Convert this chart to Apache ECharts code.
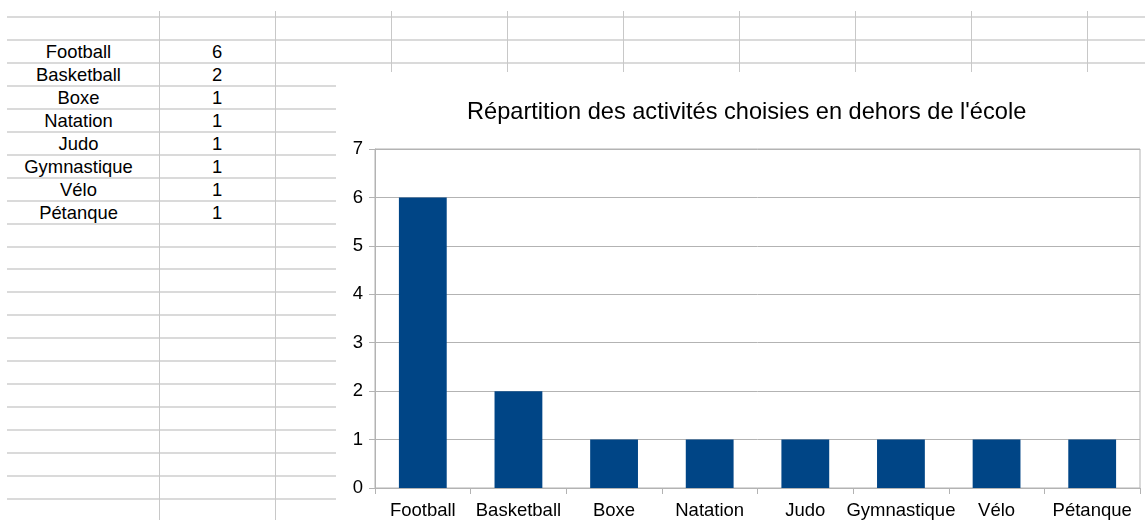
<!DOCTYPE html>
<html>
<head>
<meta charset="utf-8">
<script src="https://cdn.jsdelivr.net/npm/echarts@6/dist/echarts.min.js"></script>
<style>
  body { margin: 0; width: 1145px; height: 520px; overflow: hidden; background: #fff; position: relative; font-family: "Liberation Sans", Arial, sans-serif; }
  .hl { position: absolute; height: 2px; background: #dadada; }
  .vl { position: absolute; width: 1px; background: #c8c8c8; }
  .cell { position: absolute; height: 23px; line-height: 23px; text-align: center; font-size: 18.4px; color: #000; }
  #chart { position: absolute; left: 336px; top: 72px; width: 809px; height: 448px; background: #fff; }
</style>
</head>
<body>
<div id="sheet"></div>
<div id="chart"></div>
<script>
var activites = ["Football", "Basketball", "Boxe", "Natation", "Judo", "Gymnastique", "Vélo", "Pétanque"]
var nombres = [6, 2, 1, 1, 1, 1, 1, 1]
var titre = "Répartition des activités choisies en dehors de l'école"

// grille du tableur
var sheet = document.getElementById("sheet")
for (var k = 0; k <= 21; k++) {
  var y = Math.round(17 + k * 22.95)
  var d = document.createElement("div")
  d.className = "hl"
  d.style.left = "7px"
  d.style.top = (y - 1) + "px"
  d.style.width = (k < 3 ? 1138 : 329) + "px"
  sheet.appendChild(d)
}
;[159, 275].forEach(function (x) {
  var d = document.createElement("div")
  d.className = "vl"
  d.style.left = x + "px"; d.style.top = "11px"; d.style.height = "509px"
  sheet.appendChild(d)
})
;[391, 507, 623, 739, 855, 971, 1087].forEach(function (x) {
  var d = document.createElement("div")
  d.className = "vl"
  d.style.left = x + "px"; d.style.top = "11px"; d.style.height = "61px"
  sheet.appendChild(d)
})
activites.forEach(function (a, i) {
  var top = Math.round(17 + (i + 1) * 22.95)
  var c1 = document.createElement("div")
  c1.className = "cell"
  c1.style.left = "-2px"; c1.style.width = "161px"; c1.style.top = top + "px"
  c1.textContent = a
  sheet.appendChild(c1)
  var c2 = document.createElement("div")
  c2.className = "cell"
  c2.style.left = "159px"; c2.style.width = "116px"; c2.style.top = top + "px"
  c2.textContent = nombres[i]
  sheet.appendChild(c2)
})

var myChart = echarts.init(document.getElementById("chart"))
var gris = "#b3b3b3"
var police = "Liberation Sans"
myChart.setOption({
  animation: false,
  backgroundColor: "#fff",
  title: {
    text: titre,
    left: 126,
    top: 23,
    textStyle: { fontFamily: police, fontSize: 23.6, fontWeight: "normal", color: "#000" }
  },
  grid: { left: 39, right: 5, top: 77, bottom: 32, show: true, borderColor: gris, borderWidth: 1, backgroundColor: "transparent" },
  xAxis: {
    type: "category",
    data: activites,
    axisLine: { lineStyle: { color: gris, width: 1 } },
    axisTick: { show: true, length: 6, lineStyle: { color: gris } },
    axisLabel: { fontFamily: police, fontSize: 18.5, color: "#000", margin: 13, interval: 0 }
  },
  yAxis: {
    type: "value",
    min: 0, max: 7, interval: 1,
    axisLine: { show: true, lineStyle: { color: gris, width: 1 } },
    axisTick: { show: true, length: 6, lineStyle: { color: gris } },
    splitLine: { show: true, lineStyle: { color: gris, width: 1 } },
    axisLabel: { fontFamily: police, fontSize: 18.5, color: "#000", margin: 12 }
  },
  series: [{
    type: "bar",
    data: nombres,
    barWidth: "50%",
    itemStyle: { color: "#004586" }
  }]
})
</script>
</body>
</html>
